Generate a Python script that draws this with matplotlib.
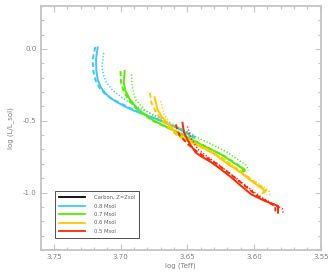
import matplotlib
matplotlib.use("Agg")
import matplotlib.pyplot as plt
from matplotlib.ticker import MultipleLocator
from matplotlib.lines import Line2D

# HR-diagram tracks: (log Teff, log L/Lsol), solid / dashed / dotted per mass
blue_solid_T = [3.7173, 3.7185, 3.7183, 3.7172, 3.7150, 3.7120, 3.7080, 3.7030, 3.6970, 3.6900, 3.6800, 3.6700, 3.6575, 3.6450]
blue_solid_L = [0.010, -0.070, -0.150, -0.215, -0.265, -0.305, -0.340, -0.370, -0.400, -0.430, -0.465, -0.500, -0.550, -0.620]
blue_dash_T = [3.7190, 3.7211, 3.7205, 3.7188, 3.7160, 3.7120, 3.7070, 3.7000, 3.6920, 3.6820, 3.6700, 3.6560, 3.6440]
blue_dash_L = [0.014, -0.074, -0.155, -0.220, -0.270, -0.310, -0.345, -0.380, -0.415, -0.455, -0.500, -0.555, -0.615]
blue_dot_T = [3.7128, 3.7140, 3.7130, 3.7110, 3.7065, 3.6990, 3.6910, 3.6830, 3.6720, 3.6600, 3.6440]
blue_dot_L = [-0.028, -0.120, -0.180, -0.230, -0.283, -0.340, -0.385, -0.425, -0.475, -0.530, -0.605]

green_solid_T = [3.6970, 3.6977, 3.6965, 3.6935, 3.6890, 3.6830, 3.6760, 3.6663, 3.6550, 3.6400, 3.6250, 3.6097, 3.6072, 3.6110]
green_solid_L = [-0.155, -0.236, -0.290, -0.345, -0.400, -0.450, -0.495, -0.540, -0.590, -0.665, -0.734, -0.826, -0.850, -0.855]
green_dash_T = [3.7002, 3.6997, 3.6978, 3.6945, 3.6895, 3.6830, 3.6750, 3.6650, 3.6530, 3.6380, 3.6230, 3.6080, 3.6060]
green_dash_L = [-0.155, -0.236, -0.295, -0.350, -0.405, -0.455, -0.505, -0.548, -0.600, -0.672, -0.742, -0.832, -0.855]
green_dot_T = [3.6919, 3.6914, 3.6889, 3.6826, 3.6725, 3.6620, 3.6500, 3.6350, 3.6200, 3.6060, 3.6040]
green_dot_L = [-0.178, -0.260, -0.352, -0.420, -0.485, -0.535, -0.585, -0.650, -0.720, -0.810, -0.845]

yellow_solid_T = [3.6746, 3.6725, 3.6690, 3.6640, 3.6575, 3.6500, 3.6400, 3.6300, 3.6200, 3.6100, 3.6020, 3.5920, 3.5935]
yellow_solid_L = [-0.336, -0.420, -0.475, -0.525, -0.595, -0.635, -0.680, -0.730, -0.800, -0.860, -0.920, -0.985, -1.005]
yellow_dash_T = [3.6781, 3.6770, 3.6730, 3.6660, 3.6580, 3.6490, 3.6380, 3.6250, 3.6120, 3.6000, 3.5910, 3.5930]
yellow_dash_L = [-0.306, -0.375, -0.450, -0.530, -0.600, -0.645, -0.690, -0.755, -0.840, -0.925, -0.985, -1.010]
yellow_dot_T = [3.6700, 3.6675, 3.6612, 3.6540, 3.6450, 3.6330, 3.6200, 3.6050, 3.5890, 3.5880]
yellow_dot_L = [-0.364, -0.456, -0.537, -0.590, -0.650, -0.705, -0.785, -0.890, -0.985, -1.015]

red_solid_T = [3.6537, 3.6525, 3.6487, 3.6437, 3.6400, 3.6320, 3.6249, 3.6170, 3.6097, 3.6022, 3.5920, 3.5820, 3.5820]
red_solid_L = [-0.514, -0.583, -0.653, -0.722, -0.746, -0.790, -0.838, -0.895, -0.954, -1.012, -1.058, -1.093, -1.140]
red_dash_T = [3.6587, 3.6560, 3.6500, 3.6450, 3.6380, 3.6280, 3.6180, 3.6080, 3.5980, 3.5880, 3.5840, 3.5840]
red_dash_L = [-0.526, -0.600, -0.660, -0.700, -0.745, -0.800, -0.870, -0.945, -1.020, -1.075, -1.095, -1.130]
red_dot_T = [3.6500, 3.6475, 3.6420, 3.6350, 3.6260, 3.6150, 3.6050, 3.5950, 3.5840, 3.5790, 3.5780]
red_dot_L = [-0.540, -0.620, -0.700, -0.750, -0.810, -0.890, -0.960, -1.030, -1.090, -1.110, -1.150]

legend_labels = ["Carbon, Z=Zsol", "0.8 Msol", "0.7 Msol", "0.6 Msol", "0.5 Msol"]
legend_colors = ["#000000", "#3cc8ff", "#50f000", "#ffc800", "#ff2800"]

tracks = [
    (legend_colors[1], blue_solid_T, blue_solid_L, blue_dash_T, blue_dash_L, blue_dot_T, blue_dot_L),
    (legend_colors[2], green_solid_T, green_solid_L, green_dash_T, green_dash_L, green_dot_T, green_dot_L),
    (legend_colors[3], yellow_solid_T, yellow_solid_L, yellow_dash_T, yellow_dash_L, yellow_dot_T, yellow_dot_L),
    (legend_colors[4], red_solid_T, red_solid_L, red_dash_T, red_dash_L, red_dot_T, red_dot_L),
]

fig = plt.figure(figsize=(3.32, 2.77), dpi=100)
ax = fig.add_axes([0.1226, 0.0975, 0.8434, 0.8815])

for color, sT, sL, dT, dL, oT, oL in tracks:
    ax.plot(dT, dL, color=color, lw=1.4, ls=(0, (2.5, 1.5)))
    ax.plot(oT, oL, color=color, lw=1.1, ls=(0, (0.8, 1.3)))
    ax.plot(sT, sL, color=color, lw=1.4)

ax.set_xlim(3.76, 3.55)
ax.set_ylim(-1.4, 0.3)
ax.xaxis.set_major_locator(MultipleLocator(0.05))
ax.xaxis.set_minor_locator(MultipleLocator(0.01))
ax.yaxis.set_major_locator(MultipleLocator(0.5))
ax.yaxis.set_minor_locator(MultipleLocator(0.1))
ax.xaxis.set_major_formatter(plt.FormatStrFormatter('%.2f'))
ax.yaxis.set_major_formatter(plt.FormatStrFormatter('%.1f'))

grey = "#c4c4c4"
for s in ax.spines.values():
    s.set_color(grey)
    s.set_linewidth(1.3)
ax.tick_params(which='both', direction='in', top=True, right=True, color=grey,
               labelsize=5, labelcolor='#808080', width=0.8, pad=3)
ax.tick_params(which='major', length=4)
ax.tick_params(which='minor', length=2)

ax.set_xlabel("log (Teff)", fontsize=5, color='#808080', labelpad=2)
ax.set_ylabel("log (L/L_sol)", fontsize=5, color='#808080', labelpad=6)

handles = [Line2D([0], [0], color=c, lw=1.3) for c in legend_colors]
leg = ax.legend(handles, legend_labels, loc='lower left', bbox_to_anchor=(0.042, 0.04),
                fontsize=3.8, frameon=True, fancybox=False, handlelength=5.0,
                borderpad=0.7, labelspacing=0.65, handletextpad=1.6)
leg.get_frame().set_edgecolor('black')
leg.get_frame().set_linewidth(0.6)
for t in leg.get_texts():
    t.set_color('#606060')

fig.savefig("out.png", dpi=100)
